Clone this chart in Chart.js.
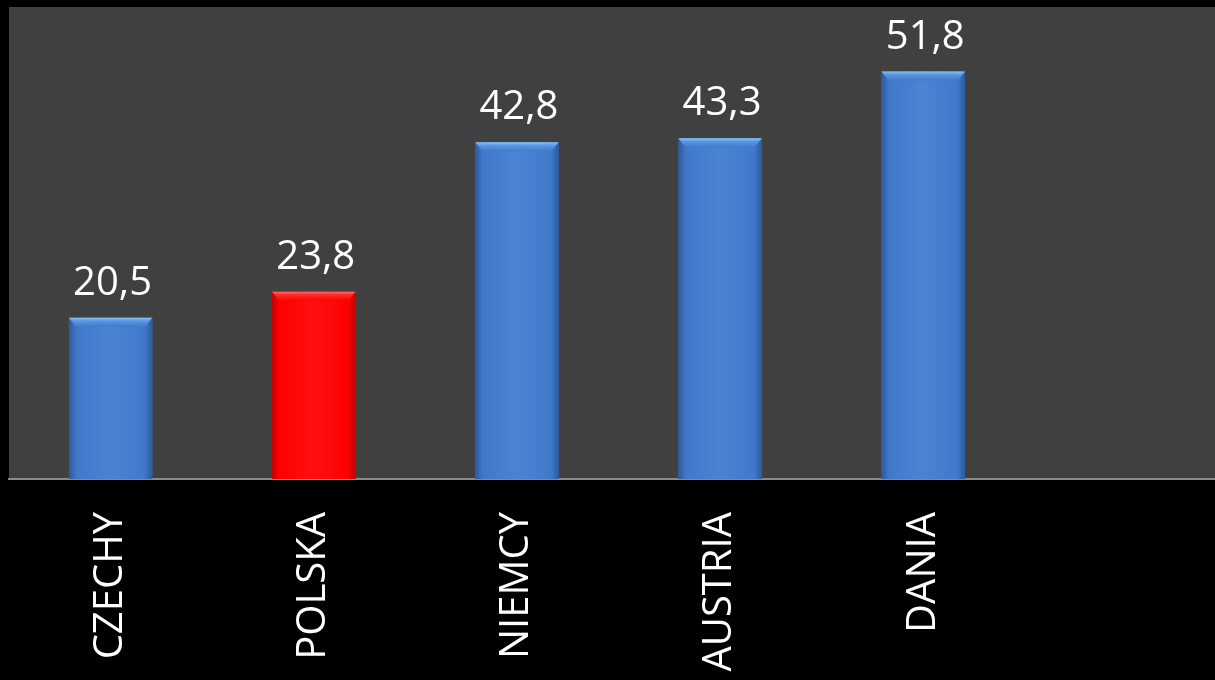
<!DOCTYPE html>
<html>
<head>
<meta charset="utf-8">
<script src="https://cdn.jsdelivr.net/npm/chart.js@4/dist/chart.umd.min.js"></script>
<style>
  html, body { margin: 0; padding: 0; background: #000; overflow: hidden; }
  #wrap { width: 1230px; height: 680px; }
</style>
</head>
<body>
<div id="wrap"><canvas id="myChart"></canvas></div>
<script>
/* global Chart */
const categories = ['CZECHY', 'POLSKA', 'NIEMCY', 'AUSTRIA', 'DANIA', '']
const values = [20.5, 23.8, 42.8, 43.3, 51.8, null]
const barColors = ['#4279c9', '#ff0000', '#4279c9', '#4279c9', '#4279c9', '#4279c9']
const yMin = 0
const yMax = 60

// shading for the bevelled bars, keyed by base colour
const palettes = {
  '#4279c9': { edge: '#2c5a9c', mid: '#4079c9', light: '#4a84d2', top: '#86c2f5', band: '#5b98e0' },
  '#ff0000': { edge: '#c40000', mid: '#ff0000', light: '#ff1010', top: '#ff6a6a', band: '#ff2a2a' }
}

const plotBackground = {
  id: 'plotBackground',
  beforeDraw (chart) {
    const { ctx, chartArea } = chart
    ctx.save()
    ctx.fillStyle = '#404040'
    ctx.fillRect(chartArea.left, chartArea.top, chartArea.right - chartArea.left, chartArea.bottom - chartArea.top)
    ctx.restore()
  }
}

const bevelBars = {
  id: 'bevelBars',
  afterDatasetsDraw (chart) {
    const ctx = chart.ctx
    ctx.save()
    chart.getDatasetMeta(0).data.forEach((bar, i) => {
      if (values[i] == null) return
      const p = bar.getProps(['x', 'y', 'width', 'base'], true)
      const x0 = p.x - p.width / 2
      const x1 = p.x + p.width / 2
      const pal = palettes[barColors[i]]
      const g = ctx.createLinearGradient(x0, 0, x1, 0)
      g.addColorStop(0, pal.edge)
      g.addColorStop(0.09, pal.mid)
      g.addColorStop(0.5, pal.light)
      g.addColorStop(0.91, pal.mid)
      g.addColorStop(1, pal.edge)
      ctx.fillStyle = g
      ctx.fillRect(x0, p.y, p.width, p.base - p.y)

      const bevel = 9
      const tg = ctx.createLinearGradient(0, p.y, 0, p.y + bevel)
      tg.addColorStop(0, pal.top)
      tg.addColorStop(0.35, pal.band)
      tg.addColorStop(1, pal.mid)
      ctx.fillStyle = tg
      ctx.beginPath()
      ctx.moveTo(x0, p.y)
      ctx.lineTo(x1, p.y)
      ctx.lineTo(x1 - 7, p.y + bevel)
      ctx.lineTo(x0 + 7, p.y + bevel)
      ctx.closePath()
      ctx.fill()
    })
    ctx.restore()
  }
}

const valueLabels = {
  id: 'valueLabels',
  afterDatasetsDraw (chart) {
    const ctx = chart.ctx
    ctx.save()
    ctx.fillStyle = '#ffffff'
    ctx.font = '40px "Open Sans"'
    ctx.textAlign = 'center'
    ctx.textBaseline = 'alphabetic'
    chart.getDatasetMeta(0).data.forEach((bar, i) => {
      if (values[i] == null) return
      ctx.fillText(values[i].toFixed(1).replace('.', ','), bar.x + 2, bar.y - 23)
    })
    ctx.restore()
  }
}

const config = {
  type: 'bar',
  data: {
    labels: categories,
    datasets: [{
      data: values,
      backgroundColor: barColors,
      borderWidth: 0,
      categoryPercentage: 1,
      barPercentage: 0.41
    }]
  },
  options: {
    responsive: true,
    maintainAspectRatio: false,
    animation: false,
    layout: { padding: { left: 9, top: 7, right: 2, bottom: 0 } },
    plugins: {
      legend: { display: false },
      tooltip: { enabled: false }
    },
    scales: {
      x: {
        grid: { display: false, drawTicks: false },
        border: { display: true, color: '#8a8a8a', width: 2 },
        ticks: {
          color: '#ffffff',
          font: { family: 'Open Sans', size: 40 },
          minRotation: 90,
          maxRotation: 90,
          autoSkip: false,
          padding: 33
        },
        afterFit (scale) {
          scale.height = 201
          scale.paddingLeft = 0
          scale.paddingRight = 0
        }
      },
      y: {
        display: false,
        min: yMin,
        max: yMax
      }
    }
  },
  plugins: [plotBackground, bevelBars, valueLabels]
}

const myChart = new Chart(document.getElementById('myChart'), config)
</script>
</body>
</html>
